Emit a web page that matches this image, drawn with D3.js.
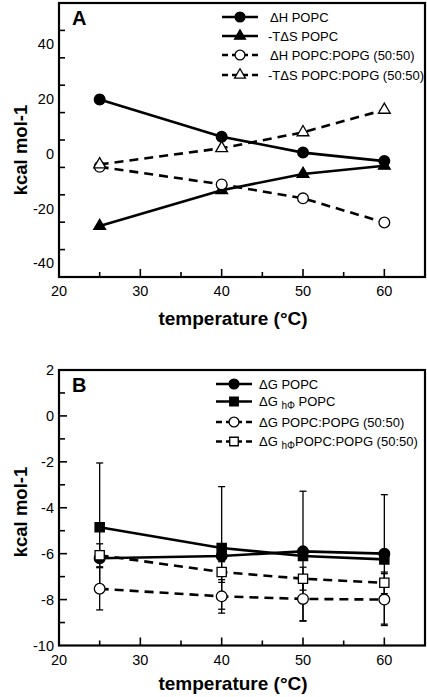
<!DOCTYPE html>
<html><head><meta charset="utf-8">
<script src="https://cdn.jsdelivr.net/npm/d3@7"></script>
<style>body{margin:0;background:#fff}svg{display:block}text{font-family:"Liberation Sans",Arial,sans-serif;fill:#000}</style>
</head><body><svg id="c" width="427" height="697"></svg>
<script>
// ---------- data ----------
const temps = [25, 40, 50, 60];
const xTicks = [20, 30, 40, 50, 60];
// Panel A
const dH_POPC = [19.8, 6.2, 0.4, -2.7];
const dH_POPC_err = [1.5, 0, 0, 0];
const mTdS_POPC = [-26.4, -13.3, -7.4, -4.4];
const dH_PG = [-4.8, -11.2, -16.3, -25.1];
const mTdS_PG = [-3.9, 2.0, 7.8, 16.0];
const yTicksA = [-40, -20, 0, 20, 40];
// Panel B
const dG_POPC = [-6.2, -6.1, -5.9, -6.0];
const dGh_POPC = [-4.85, -5.75, -6.1, -6.25];
const dGh_POPC_err = [2.8, 2.67, 2.82, 2.82];
const dG_PG = [-7.53, -7.86, -7.97, -8.0];
const dG_PG_err = [0.92, 0.73, 0.97, 1.13];
const dGh_PG = [-6.07, -6.8, -7.09, -7.27];
const dGh_PG_err = [0.5, 0.45, 0.5, 0.47];
const yTicksB = [-10, -8, -6, -4, -2, 0, 2];

const svg = d3.select("#c");

function drawPanel(o) {
  const g = svg.append("g");
  const x = d3.scaleLinear().domain([20, 65]).range([59, 425]);
  const y = d3.scaleLinear().domain(o.ydom).range([o.bottom, o.top]);
  // error bars
  o.series.forEach(s => {
    if (!s.err) return;
    temps.forEach((t, i) => {
      const e = s.err[i]; if (!e) return;
      const xx = x(t), y1 = y(s.vals[i] + e), y2 = y(s.vals[i] - e);
      g.append("line").attr("x1", xx).attr("x2", xx).attr("y1", y1).attr("y2", y2).attr("stroke", "#000").attr("stroke-width", 1.3);
      [y1, y2].forEach(yy => g.append("line").attr("x1", xx - 3.5).attr("x2", xx + 3.5).attr("y1", yy).attr("y2", yy).attr("stroke", "#000").attr("stroke-width", 1.3));
    });
  });
  // lines
  const line = d3.line().x((d, i) => x(temps[i])).y(d => y(d));
  o.series.forEach(s => {
    g.append("path").attr("d", line(s.vals)).attr("fill", "none").attr("stroke", "#000").attr("stroke-width", 2.6)
      .attr("stroke-dasharray", s.dash ? "9,6" : null);
  });
  // markers
  o.series.forEach(s => {
    temps.forEach((t, i) => {
      g.append("path").attr("d", d3.symbol().type(s.sym).size(s.size)())
        .attr("transform", `translate(${x(t)},${y(s.vals[i])})`)
        .attr("fill", s.open ? "#fff" : "#000").attr("stroke", "#000").attr("stroke-width", 1.3);
    });
  });
  // frame
  g.append("rect").attr("x", 59).attr("y", o.top).attr("width", 366).attr("height", o.bottom - o.top)
    .attr("fill", "none").attr("stroke", "#000").attr("stroke-width", 2.2);
  // x ticks (inward)
  d3.range(20, 65, 5).forEach(v => {
    if (v === 20) return;
    const major = v % 10 === 0;
    g.append("line").attr("x1", x(v)).attr("x2", x(v)).attr("y1", o.bottom).attr("y2", o.bottom - (major ? 8 : 5)).attr("stroke", "#000").attr("stroke-width", 1.6);
  });
  xTicks.forEach(v => g.append("text").attr("x", x(v)).attr("y", o.bottom + 19).attr("text-anchor", "middle").attr("font-size", 14.5).text(v));
  // y ticks (inward)
  const step = o.yTicks[1] - o.yTicks[0];
  d3.range(o.ydom[0], o.ydom[1] + 1e-9, step / 2).forEach(v => {
    const r = Math.round(v * 1000) / 1000;
    const major = o.yTicks.includes(r);
    if (Math.abs(y(r) - o.top) < 1 || Math.abs(y(r) - o.bottom) < 1) return;
    g.append("line").attr("x1", 59).attr("x2", 59 + (major ? 8 : 6)).attr("y1", y(r)).attr("y2", y(r)).attr("stroke", "#000").attr("stroke-width", 1.6);
  });
  o.yTicks.forEach(v => g.append("text").attr("x", 54).attr("y", y(v) + 5).attr("text-anchor", "end").attr("font-size", 14.5).text(v));
  // titles
  g.append("text").attr("x", 233).attr("y", o.xTitleY).attr("text-anchor", "middle").attr("font-size", 19).attr("font-weight", "bold").text("temperature (°C)");
  g.append("text").attr("transform", `translate(27,${o.yTitleC}) rotate(-90)`).attr("text-anchor", "middle").attr("font-size", 18.5).attr("font-weight", "bold").text("kcal mol-1");
  g.append("text").attr("x", 72).attr("y", o.top + 22).attr("font-size", 20).attr("font-weight", "bold").text(o.letter);
  // legend
  o.series.forEach((s, i) => {
    const ly = o.legY[i];
    g.append("line").attr("x1", o.legX0).attr("x2", o.legX1).attr("y1", ly).attr("y2", ly).attr("stroke", "#000").attr("stroke-width", 2.6)
      .attr("stroke-dasharray", s.dash ? "6,4" : null);
    g.append("path").attr("d", d3.symbol().type(s.sym).size(s.size * 0.85)())
      .attr("transform", `translate(${(o.legX0 + o.legX1) / 2},${ly})`)
      .attr("fill", s.open ? "#fff" : "#000").attr("stroke", "#000").attr("stroke-width", 1.3);
    const t = g.append("text").attr("x", o.legTX + (s.dx || 0)).attr("y", ly + 4.5).attr("font-size", 13);
    s.label.forEach(p => {
      const ts = t.append("tspan").text(p.t);
      if (p.sub) ts.attr("font-size", 10).attr("dy", 3);
      if (p.up) ts.attr("dy", -3);
    });
  });
}

drawPanel({
  letter: "A", top: 3, bottom: 277, ydom: [-45, 55], yTicks: yTicksA,
  xTitleY: 325, yTitleC: 150,
  legX0: 222, legX1: 258, legTX: 268, legY: [17, 36, 55, 75],
  series: [
    {vals: dH_POPC, err: dH_POPC_err, sym: d3.symbolCircle, size: 90, open: false, dash: false, dx: 2, label: [{t: "ΔH POPC"}]},
    {vals: mTdS_POPC, sym: d3.symbolTriangle, size: 60, open: false, dash: false, label: [{t: "-TΔS POPC"}]},
    {vals: dH_PG, sym: d3.symbolCircle, size: 90, open: true, dash: true, dx: 2, label: [{t: "ΔH POPC:POPG (50:50)"}]},
    {vals: mTdS_PG, sym: d3.symbolTriangle, size: 60, open: true, dash: true, label: [{t: "-TΔS POPC:POPG (50:50)"}]}
  ]
});

drawPanel({
  letter: "B", top: 370, bottom: 645.5, ydom: [-10, 2], yTicks: yTicksB,
  xTitleY: 690, yTitleC: 512,
  legX0: 216, legX1: 252, legTX: 259, legY: [384, 401.5, 422, 441.5],
  series: [
    {vals: dG_POPC, sym: d3.symbolCircle, size: 90, open: false, dash: false, label: [{t: "ΔG POPC"}]},
    {vals: dGh_POPC, err: dGh_POPC_err, sym: d3.symbolSquare, size: 85, open: false, dash: false, label: [{t: "ΔG "}, {t: "hΦ", sub: true}, {t: " POPC", up: true}]},
    {vals: dG_PG, err: dG_PG_err, sym: d3.symbolCircle, size: 90, open: true, dash: true, label: [{t: "ΔG POPC:POPG (50:50)"}]},
    {vals: dGh_PG, err: dGh_PG_err, sym: d3.symbolSquare, size: 85, open: true, dash: true, label: [{t: "ΔG "}, {t: "hΦ", sub: true}, {t: "POPC:POPG (50:50)", up: true}]}
  ]
});
</script></body></html>
